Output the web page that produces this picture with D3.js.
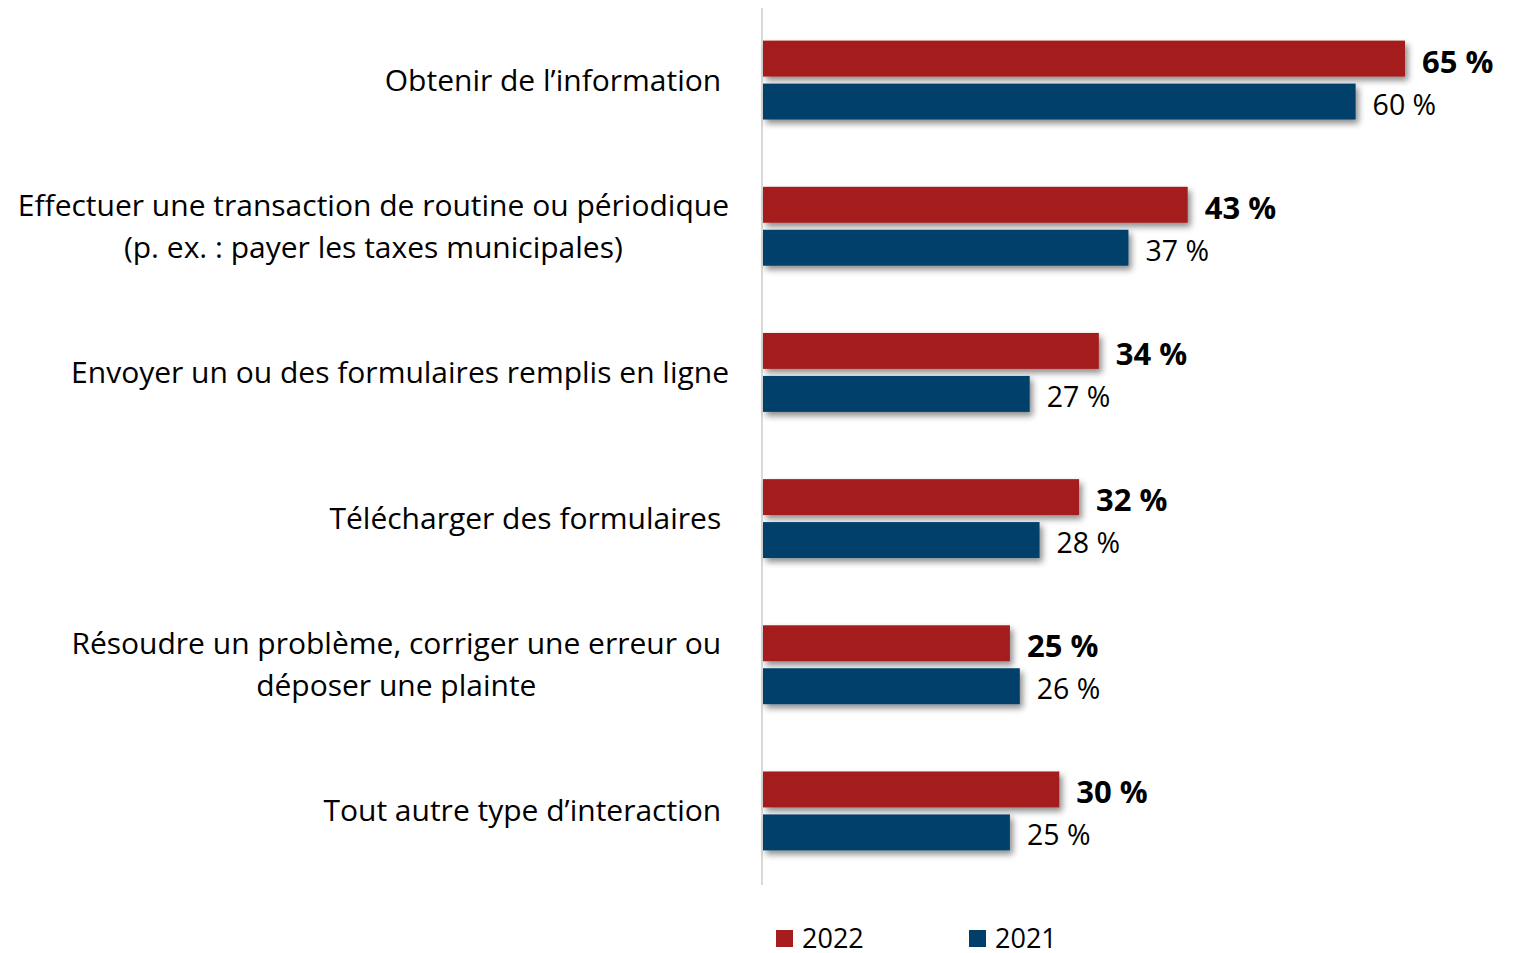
<!DOCTYPE html>
<html>
<head>
<meta charset="utf-8">
<script src="https://cdn.jsdelivr.net/npm/d3@7"></script>
<style>
  body { margin: 0; background: #fff; }
  text { font-family: "Open Sans", "Noto Sans", sans-serif; }
</style>
</head>
<body>
<div id="app"></div>
<script>
const categories = [
    ["Obtenir de l\u2019information "],
    ["Effectuer une transaction de routine ou périodique", "(p. ex. : payer les taxes municipales)"],
    ["Envoyer un ou des formulaires remplis en ligne"],
    ["Télécharger des formulaires "],
    ["Résoudre un problème, corriger une erreur ou ", "déposer une plainte "],
    ["Tout autre type d\u2019interaction "]
];
const series = ["2022", "2021"];
const values2022 = [65, 43, 34, 32, 25, 30];
const values2021 = [60, 37, 27, 28, 26, 25];
const colors = { "2022": "#A51D1D", "2021": "#003F6A" };

const width = 1516, height = 953;

const svg = d3.select("#app")
    .append("svg")
    .attr("width", width)
    .attr("height", height);

// drop shadow like the office chart
const defs = svg.append("defs");
defs.append("filter")
    .attr("id", "shadow")
    .attr("x", "-5%").attr("y", "-30%")
    .attr("width", "115%").attr("height", "180%")
    .append("feDropShadow")
    .attr("dx", 3).attr("dy", 4)
    .attr("stdDeviation", 3)
    .attr("flood-color", "#000")
    .attr("flood-opacity", 0.45);

const x = d3.scaleLinear().domain([0, 65]).range([763, 1405]);

const y = d3.scaleBand()
    .domain(d3.range(categories.length))
    .range([7, 884])
    .paddingInner(0.46)
    .paddingOuter(0.23);

const ySub = d3.scaleBand()
    .domain(series)
    .range([0, y.bandwidth()])
    .paddingInner(0.163);

const rows = categories.map((c, i) => ({
    i: i,
    lines: c,
    vals: [
        { key: "2022", v: values2022[i] },
        { key: "2021", v: values2021[i] }
    ]
}));

// axis line
svg.append("line")
    .attr("x1", 762).attr("x2", 762)
    .attr("y1", 8).attr("y2", 885)
    .attr("stroke", "#d9d9d9")
    .attr("stroke-width", 2);

const groups = svg.selectAll("g.row")
    .data(rows)
    .join("g")
    .attr("class", "row")
    .attr("transform", d => `translate(0,${y(d.i)})`);

groups.selectAll("rect")
    .data(d => d.vals)
    .join("rect")
    .attr("x", x(0))
    .attr("y", d => ySub(d.key))
    .attr("width", d => x(d.v) - x(0))
    .attr("height", ySub.bandwidth())
    .attr("fill", d => colors[d.key])
    .attr("filter", "url(#shadow)");

groups.selectAll("text.val")
    .data(d => d.vals)
    .join("text")
    .attr("class", "val")
    .attr("x", d => x(d.v) + 17)
    .attr("y", d => ySub(d.key) + ySub.bandwidth() / 2 + 2)
    .attr("dominant-baseline", "central")
    .attr("font-size", d => d.key === "2022" ? 31 : 28.5)
    .attr("font-weight", d => d.key === "2022" ? "bold" : "normal")
    .attr("fill", "#000")
    .text(d => d.v + " %");

// category labels, centred lines inside a right-aligned block
groups.each(function(d) {
    const g = d3.select(this);
    const mid = y.bandwidth() / 2 - 1;
    const lh = 42;
    const t = g.append("text")
        .attr("font-size", 30)
        .attr("fill", "#000")
        .style("white-space", "pre");
    d.lines.forEach((ln, k) => {
        t.append("tspan")
            .attr("y", mid + (k - (d.lines.length - 1) / 2) * lh)
            .attr("dominant-baseline", "central")
            .text(ln);
    });
    // measure widest line, then centre each line in a block ending at 729
    const spans = t.selectAll("tspan").nodes();
    const widths = spans.map(s => s.getComputedTextLength());
    const maxW = d3.max(widths);
    const cx = 729 - maxW / 2;
    spans.forEach(s => {
        d3.select(s).attr("x", cx).attr("text-anchor", "middle");
    });
});

// legend
const legend = svg.append("g");
const legendX = [776, 969];
series.forEach((s, k) => {
    legend.append("rect")
        .attr("x", legendX[k]).attr("y", 930)
        .attr("width", 17).attr("height", 17)
        .attr("fill", colors[s]);
    legend.append("text")
        .attr("x", legendX[k] + 26).attr("y", 937)
        .attr("dominant-baseline", "central")
        .attr("font-size", 27)
        .text(s);
});
</script>
</body>
</html>
